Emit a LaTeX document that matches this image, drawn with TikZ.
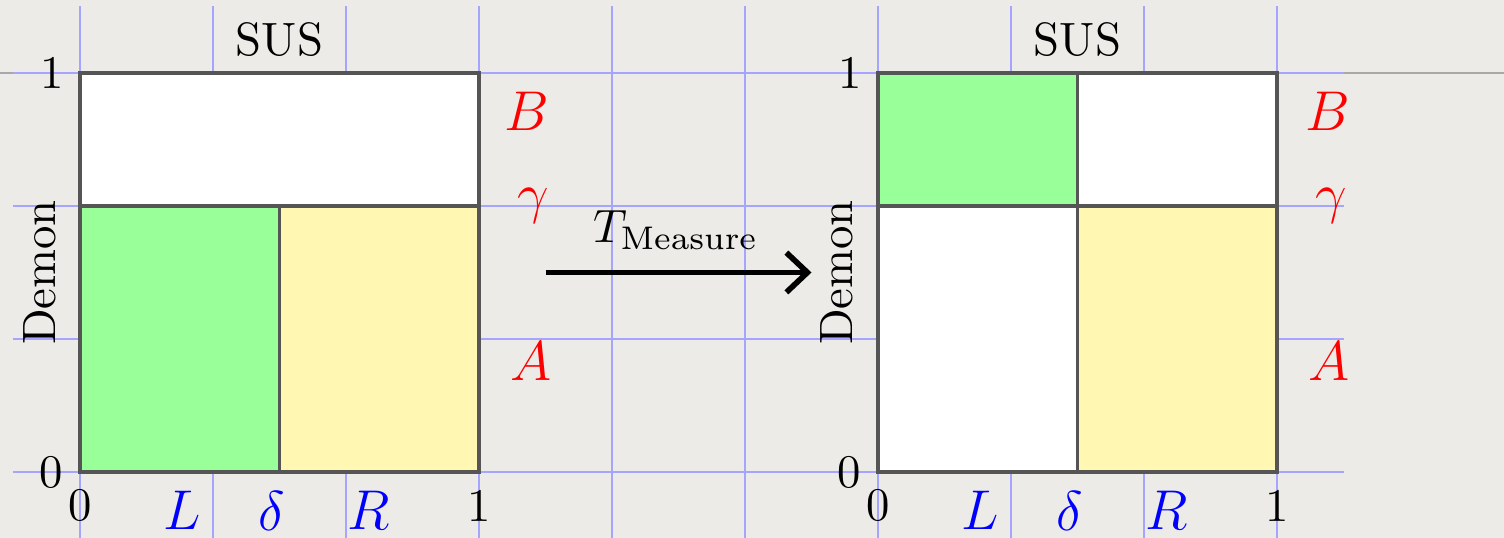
\documentclass[tikz,border=0pt]{standalone}
\usetikzlibrary{arrows.meta}
\definecolor{bg}{RGB}{236,235,231}
\definecolor{boxline}{RGB}{85,85,85}
\definecolor{gfill}{RGB}{153,255,153}
\definecolor{yfill}{RGB}{255,247,178}
\definecolor{gridblue}{RGB}{165,165,255}
\definecolor{themeline}{RGB}{168,168,168}
\begin{document}
\begin{tikzpicture}[x=1cm,y=1cm,
  region/.style={draw=boxline,line width=0.75pt},
  axlbl/.style={inner sep=0pt},
  redlbl/.style={inner sep=0pt,text=red,font=\large},
  bluelbl/.style={inner sep=0pt,text=blue,font=\large},
  measarrow/.style={-{Straight Barb[length=4.5pt,width=8.5pt,line width=1.2pt]},line width=1.2pt}]
\fill[bg] (-0.6015,-0.4962) rectangle (10.7068,3.5489);
\useasboundingbox (-0.6015,-0.4962) rectangle (10.7068,3.5489);
\draw[themeline,line width=0.5pt] (-0.6015,3) -- (10.7068,3);
\draw[gridblue,line width=0.25pt,step=1] (-0.5,-0.5) grid (9.5,3.5);
% left diagram
\begin{scope}
\path[region,fill=white] (0,2) rectangle (3,3);
\path[region,fill=gfill] (0,0) rectangle (1.5,2);
\path[region,fill=yfill] (1.5,0) rectangle (3,2);
\node[axlbl] (sus1) at (1.5,3.25) {SUS};
\node[axlbl] (ya1) at (-0.21,3.0) {1};
\node[axlbl] (yb1) at (-0.22,0) {0};
\node[axlbl] (xa1) at (0,-0.255) {0};
\node[axlbl] (xb1) at (3,-0.255) {1};
\node[axlbl,rotate=90] (dem1) at (-0.30,1.5) {Demon};
\node[bluelbl] (L1) at (0.77,-0.29) {$L$};
\node[bluelbl] (d1) at (1.44,-0.29) {$\delta$};
\node[bluelbl] (R1) at (2.17,-0.29) {$R$};
\node[redlbl] (B1) at (3.36,2.71) {$B$};
\node[redlbl] (g1) at (3.41,2.0) {$\gamma$};
\node[redlbl] (A1) at (3.39,0.83) {$A$};
\end{scope}
% right diagram
\begin{scope}[xshift=6cm]
\path[region,fill=gfill] (0,2) rectangle (1.5,3);
\path[region,fill=white] (1.5,2) rectangle (3,3);
\path[region,fill=white] (0,0) rectangle (1.5,2);
\path[region,fill=yfill] (1.5,0) rectangle (3,2);
\node[axlbl] (sus2) at (1.5,3.25) {SUS};
\node[axlbl] (ya2) at (-0.21,3.0) {1};
\node[axlbl] (yb2) at (-0.22,0) {0};
\node[axlbl] (xa2) at (0,-0.255) {0};
\node[axlbl] (xb2) at (3,-0.255) {1};
\node[axlbl,rotate=90] (dem2) at (-0.31,1.5) {Demon};
\node[bluelbl] (L2) at (0.77,-0.29) {$L$};
\node[bluelbl] (d2) at (1.44,-0.29) {$\delta$};
\node[bluelbl] (R2) at (2.17,-0.29) {$R$};
\node[redlbl] (B2) at (3.38,2.71) {$B$};
\node[redlbl] (g2) at (3.41,2.0) {$\gamma$};
\node[redlbl] (A2) at (3.39,0.83) {$A$};
\end{scope}
% arrow
\coordinate (astart) at (3.5,1.5);
\coordinate (aend) at (5.5,1.5);
\draw[measarrow] (astart) -- (aend);
\node[axlbl] (tm) at (4.48,1.82) {$T_{\mathrm{Measure}}$};
\end{tikzpicture}
\end{document}
